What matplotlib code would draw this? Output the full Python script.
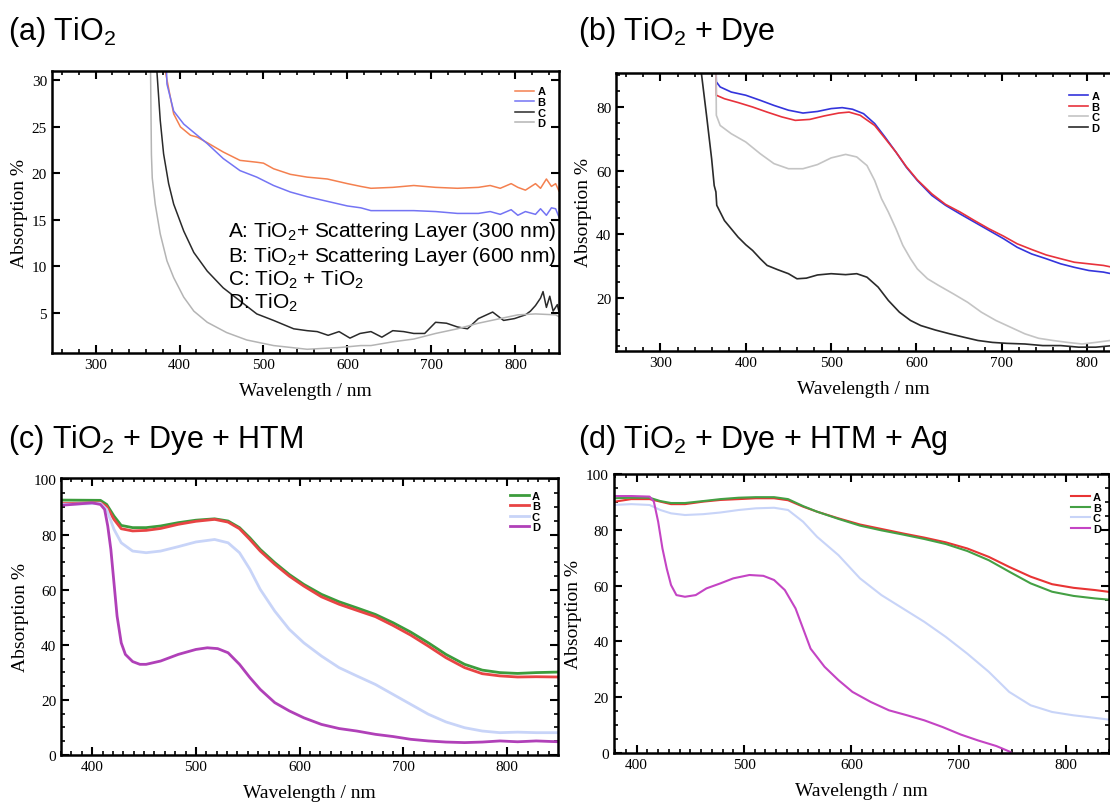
import matplotlib
matplotlib.use("Agg")
import matplotlib.pyplot as plt
from matplotlib.ticker import MultipleLocator

plt.rcParams['font.family'] = ['Liberation Serif', 'DejaVu Serif']
plt.rcParams['mathtext.fontset'] = 'custom'
plt.rcParams['mathtext.rm'] = 'Liberation Sans'
plt.rcParams['mathtext.it'] = 'Liberation Sans:italic'
plt.rcParams['mathtext.bf'] = 'Liberation Sans:bold'

# ---- (a) TiO2 ----
a_wl_A = [382, 383, 389, 393, 401, 413, 421, 433, 452, 472, 492, 500, 512, 532, 552, 576, 600, 616,
          628, 654, 679, 705, 731, 756, 770, 782, 795, 803, 812, 824, 830, 837, 843, 848, 852]
a_A = [35, 31, 28.2, 26.4, 25.0, 24.1, 23.9, 23.3, 22.3, 21.4, 21.2, 21.1, 20.5, 19.9, 19.6, 19.4, 18.9, 18.6,
       18.4, 18.5, 18.7, 18.5, 18.4, 18.5, 18.7, 18.4, 18.9, 18.5, 18.2, 18.9, 18.4, 19.4, 18.6, 18.9, 18.1]
a_wl_B = [383, 385, 393, 405, 413, 421, 433, 452, 472, 492, 512, 532, 552, 576, 600, 616,
          628, 654, 679, 705, 731, 756, 770, 782, 795, 803, 812, 824, 830, 837, 843, 848, 852]
a_B = [35, 29.6, 26.7, 25.3, 24.7, 24.1, 23.2, 21.6, 20.3, 19.6, 18.7, 18.0, 17.5, 17.0, 16.5, 16.3,
       16.0, 16.0, 16.0, 15.9, 15.7, 15.7, 15.9, 15.6, 16.1, 15.5, 15.9, 15.6, 16.2, 15.5, 16.3, 16.2, 15.3]
a_wl_C = [372, 373, 377, 381, 387, 393, 405, 417, 433, 452, 472, 492, 512, 536, 552, 564, 577,
          590, 603, 615, 628, 641, 654, 667, 679, 692, 705, 718, 731, 743, 756, 773, 786, 799, 812,
          818, 824, 830, 833, 837, 841, 845, 850, 852]
a_C = [35, 31, 25.7, 22.1, 18.9, 16.7, 13.8, 11.5, 9.5, 7.7, 6.3, 4.9, 4.2, 3.3, 3.1, 3.0, 2.6,
       3.0, 2.3, 2.8, 3.0, 2.4, 3.1, 3.0, 2.8, 2.8, 4.0, 3.9, 3.5, 3.3, 4.4, 5.1, 4.2, 4.4, 4.8,
       5.2, 5.8, 6.6, 7.3, 5.6, 6.8, 5.2, 5.9, 5.1]
a_wl_D = [365, 366.5, 367.5, 371, 377, 385, 393, 405, 417, 433, 456, 480, 512, 552, 592, 616,
          628, 654, 679, 705, 731, 756, 782, 803, 824, 848, 852]
a_D = [35, 22, 19.5, 16.7, 13.5, 10.6, 8.8, 6.7, 5.2, 4.0, 2.9, 2.1, 1.5, 1.1, 1.3, 1.5,
       1.5, 1.9, 2.2, 2.8, 3.3, 3.9, 4.4, 4.8, 4.9, 4.8, 4.6]
a_colors = ['#f4804f', '#7474f4', '#2a2a2a', '#b4b4b4']
a_notes = ['A: TiO$_2$+ Scattering Layer (300 nm)', 'B: TiO$_2$+ Scattering Layer (600 nm)',
           'C: TiO$_2$ + TiO$_2$', 'D: TiO$_2$']

# ---- (b) TiO2 + Dye ----
b_wl_A = [365, 365.5, 370, 383, 400, 417, 433, 450, 467, 484, 500, 513, 525, 538, 551, 563, 576, 588, 601,
          618, 634, 651, 668, 685, 702, 718, 735, 752, 769, 785, 802, 819, 830]
b_A = [95, 87.9, 86.3, 84.7, 83.7, 82.1, 80.5, 79.0, 78.1, 78.6, 79.5, 79.8, 79.3, 77.9, 74.8, 70.6, 65.8, 61.1, 56.9,
       52.2, 49.1, 46.4, 43.8, 41.2, 38.6, 35.9, 33.8, 32.3, 30.7, 29.6, 28.6, 28.1, 27.5]
b_wl_B = [365, 365.5, 375, 391, 408, 425, 442, 458, 475, 492, 509, 521, 534, 551, 563, 576, 588, 601,
          618, 634, 651, 668, 685, 702, 718, 735, 752, 769, 785, 802, 819, 830]
b_B = [95, 83.7, 82.6, 81.4, 80.0, 78.4, 76.9, 75.8, 76.1, 77.2, 78.1, 78.4, 77.4, 74.2, 70.2, 65.8, 61.3, 57.1,
       52.7, 49.4, 47.0, 44.3, 41.7, 39.4, 37.0, 35.2, 33.5, 32.3, 31.2, 30.7, 30.2, 29.6]
b_wl_C = [365, 365.5, 370, 383, 400, 417, 433, 450, 467, 484, 500, 517, 530, 542, 551, 559, 567, 576, 584,
          593, 601, 613, 626, 643, 660, 676, 693, 710, 727, 743, 760, 777, 794, 810, 827, 830]
b_C = [95, 77.4, 74.2, 71.6, 69.0, 65.3, 62.2, 60.6, 60.6, 61.9, 64.0, 65.1, 64.3, 61.6, 56.9, 51.2, 47.0, 41.7, 36.5,
       32.3, 29.1, 26.0, 23.9, 21.3, 18.6, 15.5, 12.9, 10.8, 8.7, 7.3, 6.6, 6.0, 5.5, 6.0, 6.6, 6.0]
b_wl_D = [346, 354, 360, 363, 365, 366, 375, 383, 391, 400, 408, 417, 425, 437, 450, 460, 471, 484, 500,
          517, 530, 542, 555, 567, 580, 593, 605, 622, 639, 656, 672, 689, 706, 727, 748, 769, 790, 810, 830]
b_D = [95, 77.4, 63.7, 55.3, 53.3, 49.1, 44.3, 41.7, 39.1, 36.7, 34.9, 32.3, 30.2, 28.9, 27.6, 26.0, 26.2, 27.2, 27.6,
       27.3, 27.6, 26.5, 23.4, 19.2, 15.5, 12.9, 11.3, 9.9, 8.7, 7.6, 6.6, 6.0, 5.7, 5.5, 5.0, 5.0, 4.5, 4.5, 5.0]
b_colors = ['#3434dc', '#e8323c', '#c4c4c4', '#2a2a2a']

# ---- (c) TiO2 + Dye + HTM ----
c_wl = [370, 408, 414, 421, 428, 439, 452, 466, 483, 500, 518, 531, 542, 552, 562, 576, 590, 604,
        621, 638, 655, 673, 690, 707, 724, 741, 759, 776, 793, 810, 828, 850]
c_A = [92.5, 92.4, 90.9, 86.7, 83.3, 82.5, 82.5, 83.1, 84.3, 85.2, 85.7, 84.9, 82.5, 78.8, 74.6, 69.8, 65.5, 61.9,
       58.3, 55.6, 53.4, 51.0, 48.0, 44.6, 40.7, 36.5, 32.9, 30.8, 29.9, 29.6, 29.9, 30.1]
c_B = [91.2, 91.5, 90.2, 85.5, 82.1, 81.3, 81.5, 82.2, 83.7, 84.8, 85.5, 84.5, 82.1, 78.2, 74.0, 69.2, 64.9, 61.3,
       57.4, 54.7, 52.5, 50.2, 47.0, 43.5, 39.5, 35.3, 31.7, 29.5, 28.7, 28.3, 28.4, 28.3]
c_C = [90.9, 91.3, 89.1, 81.9, 77.0, 74.0, 73.4, 74.0, 75.6, 77.3, 78.2, 77.0, 73.4, 67.4, 60.1, 52.2, 45.6, 40.7,
       35.9, 31.7, 28.7, 25.6, 22.0, 18.4, 14.8, 12.0, 9.9, 8.7, 8.1, 8.3, 8.1, 8.1]
c_wl_D = [370, 400, 408, 412, 415, 418, 421, 424, 428, 432, 439, 446, 452, 466, 483, 500, 511, 521, 531, 542,
          552, 562, 576, 590, 604, 621, 638, 655, 673, 690, 707, 724, 741, 759, 776, 793, 810, 828, 850]
c_D = [90.6, 91.5, 90.9, 89.1, 83.1, 74.6, 62.5, 50.4, 40.7, 36.5, 33.9, 32.9, 32.9, 34.1, 36.5, 38.3, 38.9, 38.6,
       37.1, 32.9, 28.1, 23.8, 19.0, 16.0, 13.5, 11.1, 9.6, 8.7, 7.5, 6.7, 5.7, 5.1, 4.7, 4.5, 4.7, 5.1, 4.8, 5.1, 4.8]
c_colors = ['#3c9c3c', '#e84444', '#c8d4f8', '#b040b8']

# ---- (d) TiO2 + Dye + HTM + Ag ----
d_wl = [378, 395, 412, 422, 432, 445, 462, 478, 495, 511, 528, 541, 555, 568, 588, 608, 628, 648,
        668, 688, 708, 728, 747, 767, 787, 807, 827, 845]
d_A = [90.0, 91.0, 91.0, 90.1, 89.2, 89.2, 90.1, 90.7, 91.0, 91.3, 91.3, 90.6, 88.3, 86.5, 84.1, 81.9, 80.3, 78.7,
       77.2, 75.5, 73.3, 70.3, 66.7, 63.2, 60.5, 59.2, 58.4, 57.5]
d_B = [91.3, 91.5, 91.5, 90.3, 89.6, 89.6, 90.3, 91.0, 91.5, 91.7, 91.7, 91.0, 88.5, 86.5, 83.9, 81.5, 79.8, 78.3,
       76.7, 74.9, 72.4, 69.1, 65.0, 60.8, 57.8, 56.3, 55.4, 54.8]
d_C = [88.9, 89.2, 88.9, 87.1, 85.9, 85.3, 85.6, 86.2, 87.1, 87.7, 87.9, 87.1, 82.9, 77.5, 70.9, 62.6, 56.6, 51.8,
       47.0, 41.6, 35.6, 29.1, 21.9, 17.1, 14.7, 13.5, 12.6, 11.7]
d_wl_D = [378, 395, 412, 416, 420, 424, 428, 432, 437, 445, 455, 465, 478, 490, 505, 518, 528, 538, 548, 555,
          562, 575, 588, 601, 618, 635, 652, 668, 685, 702, 718, 735, 748, 755]
d_D = [92.1, 92.1, 91.9, 90.1, 82.9, 73.3, 66.1, 60.2, 56.6, 56.0, 56.6, 59.0, 60.8, 62.6, 63.8, 63.5, 62.0, 58.4,
       51.8, 44.6, 37.4, 30.9, 26.1, 21.9, 18.3, 15.3, 13.5, 11.7, 9.3, 6.6, 4.5, 2.5, 0.4, -2]
d_colors = ['#e83434', '#44a044', '#c8d4f8', '#c444c4']

labels = ['A', 'B', 'C', 'D']

fig = plt.figure(figsize=(11.1, 8.04), dpi=100)


def style(ax, xminor, ymajor, yminor):
    ax.xaxis.set_major_locator(MultipleLocator(100))
    ax.xaxis.set_minor_locator(MultipleLocator(xminor))
    ax.yaxis.set_major_locator(MultipleLocator(ymajor))
    if yminor:
        ax.yaxis.set_minor_locator(MultipleLocator(yminor))
    ax.tick_params(which='both', direction='in', top=True, right=True, labelsize=11)
    ax.tick_params(which='major', length=6, width=1.5)
    ax.tick_params(which='minor', length=3, width=1.2)
    for s in ax.spines.values():
        s.set_linewidth(1.8)
    ax.set_xlabel('Wavelength / nm', fontsize=14, labelpad=8)
    ax.set_ylabel('Absorption %', fontsize=14, labelpad=3)


def legend(ax, anchor):
    ax.legend(loc='upper right', bbox_to_anchor=anchor, frameon=False,
              prop={'family': 'Liberation Sans', 'weight': 'bold', 'size': 8},
              handlelength=1.7, handletextpad=0.3, labelspacing=0.05, borderpad=0)


# (a)
ax = fig.add_axes([0.0468, 0.5597, 0.4568, 0.3507])
for wl, v, c, lab in zip([a_wl_A, a_wl_B, a_wl_C, a_wl_D], [a_A, a_B, a_C, a_D], a_colors, labels):
    ax.plot(wl, v, color=c, lw=1.1, label=lab)
ax.set_xlim(248, 852)
ax.set_ylim(0.7, 31)
style(ax, 20, 5, None)
legend(ax, (0.985, 0.965))
for i, (t, yb) in enumerate(zip(a_notes, [0.415, 0.326, 0.241, 0.160])):
    ax.text(0.347, yb, t, transform=ax.transAxes, fontsize=15,
            family='Liberation Sans', va='baseline')

# (b)
ax = fig.add_axes([0.555, 0.5622, 0.4452, 0.3458])
for wl, v, c, lab in zip([b_wl_A, b_wl_B, b_wl_C, b_wl_D], [b_A, b_B, b_C, b_D], b_colors, labels):
    ax.plot(wl, v, color=c, lw=1.2, label=lab)
ax.set_xlim(248, 827)
ax.set_ylim(3.3, 90.7)
style(ax, 20, 20, 5)
ax.spines['right'].set_visible(False)
ax.tick_params(which='both', right=False)
legend(ax, (0.99, 0.955))

# (c)
ax = fig.add_axes([0.055, 0.0597, 0.4477, 0.3445])
for wl, v, c, lab in zip([c_wl, c_wl, c_wl, c_wl_D], [c_A, c_B, c_C, c_D], c_colors, labels):
    ax.plot(wl, v, color=c, lw=2.0, label=lab)
ax.set_xlim(370, 849)
ax.set_ylim(0, 100.5)
style(ax, 10, 20, 5)
legend(ax, (0.975, 0.975))

# (d)
ax = fig.add_axes([0.5528, 0.0622, 0.4463, 0.347])
for wl, v, c, lab in zip([d_wl, d_wl, d_wl, d_wl_D], [d_A, d_B, d_C, d_D], d_colors, labels):
    ax.plot(wl, v, color=c, lw=1.5, label=lab)
ax.set_xlim(378.5, 840)
ax.set_ylim(0, 100)
style(ax, 10, 20, 5)
legend(ax, (0.995, 0.955))

# panel titles
titles = ['(a) TiO$_2$', '(b) TiO$_2$ + Dye', '(c) TiO$_2$ + Dye + HTM', '(d) TiO$_2$ + Dye + HTM + Ag']
title_pos = [(8, 40), (578, 40), (8, 448), (578, 448)]
for t, (px, py) in zip(titles, title_pos):
    fig.text(px / 1110, 1 - py / 804, t, fontsize=22, family='Liberation Sans', va='baseline')

fig.savefig('out.png', dpi=100)
